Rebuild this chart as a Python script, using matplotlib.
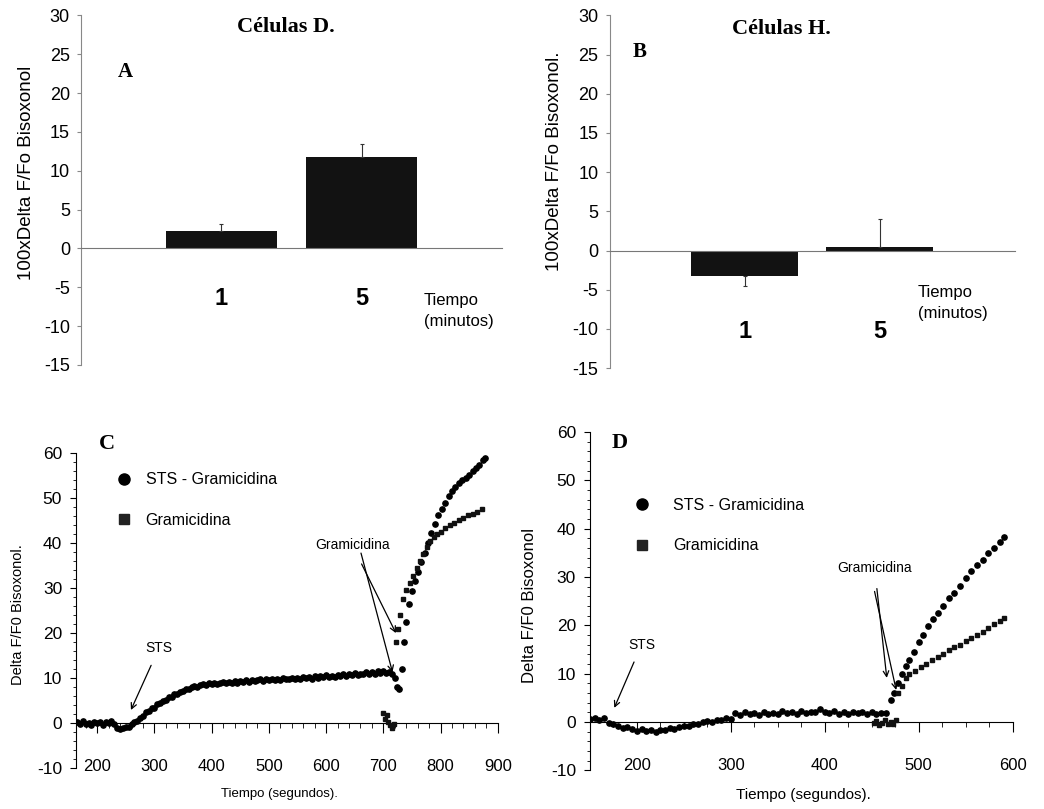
import numpy as np
import matplotlib
matplotlib.use("Agg")
from matplotlib import pyplot as plt
from matplotlib.lines import Line2D
from matplotlib.ticker import MultipleLocator

plt.rcParams["axes.unicode_minus"] = False

SANS = ["Liberation Sans", "DejaVu Sans"]
SERIF = ["Liberation Serif", "DejaVu Serif"]

# --- panel A / B: bars (100 x Delta F/Fo) ---
bar_labels = ["1", "5"]
a_values = [2.3, 11.8]
a_err_up = [0.9, 1.6]
b_values = [-3.2, 0.4]
b_err_down = [1.3, 0.0]
b_err_up = [0.0, 3.6]

# --- panel C: time courses (s, Delta F/F0) ---
c_sts_t = np.arange(165, 720, 5)
c_sts_v = [0.2, -0.3, 0.4, -0.2, 0.1, -0.5, 0.3, -0.1, 0.2, -0.4,
           0.3, 0.0, 0.5, -0.2, -1.0, -1.3, -1.1, -0.9, -0.8, -0.3,
           0.2, 0.5, 1.2, 1.5, 2.4, 2.6, 3.4, 3.3, 4.2, 4.5,
           5.0, 5.1, 5.8, 5.9, 6.5, 6.4, 7.0, 7.2, 7.6, 7.5,
           8.0, 8.3, 8.1, 8.5, 8.7, 8.4, 8.8, 8.6, 9.0, 8.7,
           8.9, 9.2, 8.8, 9.1, 9.0, 9.3, 8.9, 9.4, 9.2, 9.5,
           9.1, 9.6, 9.3, 9.5, 9.8, 9.4, 9.7, 9.5, 9.9, 9.6,
           9.8, 9.5, 10.0, 9.7, 9.9, 10.1, 9.8, 10.0, 9.7, 10.2,
           10.0, 10.3, 9.9, 10.4, 10.1, 10.5, 10.2, 10.6, 10.3, 10.5,
           10.2, 10.7, 10.4, 10.8, 10.5, 10.9, 10.6, 11.2, 10.7, 11.0,
           10.8, 11.3, 10.9, 11.4, 11.0, 11.5, 11.1, 11.6, 11.2, 11.4,
           11.0]
c_sts_post_t = [720, 724, 728, 732, 736, 740, 745, 750, 755, 760,
                766, 772, 778, 784, 790, 796, 802, 808, 814, 820,
                826, 832, 838, 844, 850, 856, 862, 868, 874, 878]
c_sts_post_v = [10.0, 8.0, 7.5, 12.0, 18.0, 22.5, 26.5, 29.3, 31.5, 33.5,
                35.8, 37.8, 40.0, 42.2, 44.3, 46.2, 47.6, 48.9, 50.4, 51.5,
                52.4, 53.3, 54.0, 54.6, 55.2, 56.0, 56.8, 57.4, 58.4, 59.0]
c_gram_t = [700, 703, 706, 709, 712, 715, 718,
            722, 726, 730, 735, 740, 746, 752, 758, 764, 770, 776, 782,
            788, 794, 800, 808, 816, 824, 832, 840, 848, 856, 864, 872]
c_gram_v = [2.3, 1.0, 1.8, 0.2, -0.5, -1.0, -0.2,
            18.0, 21.0, 24.0, 27.5, 29.5, 31.2, 32.8, 34.5, 36.0, 37.6, 39.2, 40.5,
            41.3, 42.0, 42.6, 43.4, 44.1, 44.6, 45.2, 45.7, 46.2, 46.6, 47.0, 47.5]

# --- panel D ---
d_sts_t = np.arange(150, 470, 5)
d_sts_v = [0.5, 0.8, 0.4, 0.9, -0.3, -0.5, -0.9, -1.2, -1.0, -1.5,
           -1.8, -1.5, -1.9, -1.6, -2.0, -1.7, -1.6, -1.3, -1.4, -1.0,
           -0.8, -0.9, -0.4, -0.5, -0.1, 0.2, 0.0, 0.4, 0.3, 0.8,
           0.5, 1.8, 1.4, 2.0, 1.6, 1.8, 1.5, 2.1, 1.7, 1.9,
           1.6, 2.2, 1.8, 2.0, 1.7, 2.3, 1.8, 2.1, 2.0, 2.6,
           2.1, 1.8, 2.2, 1.7, 2.0, 1.6, 2.1, 1.8, 2.0, 1.7,
           2.0, 1.6, 1.9, 1.8]
d_sts_post_t = [470, 474, 478, 482, 486, 490, 495, 500, 505, 510, 515, 520,
                526, 532, 538, 544, 550, 556, 562, 568, 574, 580, 586, 591]
d_sts_post_v = [4.5, 6.0, 8.0, 10.0, 11.5, 12.8, 14.5, 16.5, 18.0, 19.8, 21.2, 22.6,
                24.0, 25.7, 26.7, 28.2, 29.8, 31.3, 32.4, 33.5, 34.9, 36.0, 37.2, 38.3]
d_gram_t = [452, 455, 458, 461, 464, 467, 470, 473, 476,
            478, 482, 486, 490, 496, 502, 508, 514, 520, 526, 532,
            538, 544, 550, 556, 562, 568, 574, 580, 586, 591]
d_gram_v = [-0.3, 0.2, -0.6, -0.2, 0.3, -0.5, 0.0, -0.4, 0.3,
            6.0, 7.5, 9.0, 10.0, 10.6, 11.3, 12.0, 12.8, 13.4, 14.1, 14.8,
            15.4, 16.0, 16.7, 17.3, 18.0, 18.6, 19.5, 20.2, 20.9, 21.5]

legend_labels = ["STS - Gramicidina", "Gramicidina"]


def bar_panel(ax, values, err, title, letter, title_xy, letter_xy, tiempo_xy, xpad):
    ax.bar([1, 2], values, width=0.79, color="#121212", zorder=2,
           yerr=err, error_kw=dict(ecolor="#333333", elinewidth=0.8, capsize=1.5, capthick=0.8))
    ax.set_xlim(0, 3)
    ax.set_ylim(-15, 30)
    ax.set_yticks(range(-15, 31, 5))
    ax.set_xticks([1, 2], bar_labels)
    for s in ("top", "right"):
        ax.spines[s].set_visible(False)
    ax.spines["bottom"].set_position(("data", 0))
    ax.spines["bottom"].set_color("#777777")
    ax.spines["left"].set_color("#888888")
    ax.spines["left"].set_linewidth(0.8)
    ax.tick_params(axis="x", length=0, pad=xpad, labelsize=17)
    ax.tick_params(axis="y", length=3, pad=5, labelsize=13, color="#888888")
    for lbl in ax.get_xticklabels():
        lbl.set_fontweight("bold")
        lbl.set_family(SANS)
    for lbl in ax.get_yticklabels():
        lbl.set_family(SANS)
    ax.text(*title_xy, title, transform=ax.transAxes, ha="center", va="center",
            family=SERIF, weight="bold", size=16)
    ax.text(*letter_xy, letter, transform=ax.transAxes, ha="center", va="center",
            family=SERIF, weight="bold", size=15)
    ax.text(*tiempo_xy, "Tiempo\n(minutos)", transform=ax.transAxes, ha="left", va="center",
            family=SANS, size=12, linespacing=1.5)


def trace_panel(ax, xlim, xminor, legend_anchor, textpad):
    ax.set_xlim(*xlim)
    ax.set_ylim(-10, 60)
    ax.xaxis.set_minor_locator(MultipleLocator(xminor))
    ax.yaxis.set_major_locator(MultipleLocator(10))
    ax.yaxis.set_minor_locator(MultipleLocator(2))
    for s in ("top", "right"):
        ax.spines[s].set_visible(False)
    ax.spines["bottom"].set_position(("data", 0))
    ax.tick_params(axis="x", which="major", length=7, pad=19, labelsize=12)
    ax.tick_params(axis="x", which="minor", length=3.5)
    ax.tick_params(axis="y", which="major", length=4, pad=6, labelsize=12.5)
    ax.tick_params(axis="y", which="minor", length=2.5)
    for lbl in ax.get_xticklabels() + ax.get_yticklabels():
        lbl.set_family(SANS)
    handles = [Line2D([], [], marker="o", ls="none", color="black", ms=8),
               Line2D([], [], marker="s", ls="none", color="#222222", ms=7)]
    ax.legend(handles, legend_labels, loc="upper left", bbox_to_anchor=legend_anchor,
              frameon=False, borderpad=0, borderaxespad=0, handlelength=1.0,
              handletextpad=textpad, labelspacing=1.6,
              prop=dict(family=SANS, size=11.5))


fig = plt.figure(figsize=(10.44, 8.09), dpi=100)

axA = fig.add_axes([0.0776, 0.549, 0.403, 0.432])
bar_panel(axA, a_values, [[0, 0], a_err_up], "Células D.", "A",
          (0.487, 0.966), (0.105, 0.837), (0.815, 0.154), 28)
axA.set_ylabel("100xDelta F/Fo Bisoxonol", family=SANS, size=13.5)
axA.yaxis.set_label_coords(-0.109, 0.55)

axB = fig.add_axes([0.584, 0.545, 0.388, 0.436])
bar_panel(axB, b_values, [b_err_down, b_err_up], "Células H.", "B",
          (0.425, 0.96), (0.074, 0.895), (0.76, 0.184), 50)
axB.set_ylabel("100xDelta F/Fo Bisoxonol.", family=SANS, size=13.5)
axB.yaxis.set_label_coords(-0.116, 0.586)

arrow = dict(arrowstyle="->", lw=0.9, color="black", shrinkA=0, shrinkB=0)

# --- C ---
axC = fig.add_axes([0.0728, 0.0507, 0.404, 0.389])
axC.plot(c_sts_t, c_sts_v, "o", color="black", ms=3.8, zorder=3)
axC.plot(c_sts_post_t, c_sts_post_v, "o", color="black", ms=3.8, zorder=3)
axC.plot(c_gram_t, c_gram_v, "s", color="#111111", ms=3.3, zorder=3)
trace_panel(axC, (163, 900), 20, (0.095, 0.94), 0.85)
axC.set_xticks(range(200, 901, 100))
for lbl in axC.get_xticklabels():
    lbl.set_family(SANS)
axC.set_ylabel("Delta F/F0 Bisoxonol.", family=SANS, size=10.5)
axC.yaxis.set_label_coords(-0.121, 0.486)
axC.set_xlabel("Tiempo (segundos).", family=SANS, size=9.5)
axC.xaxis.set_label_coords(0.483, -0.063)
axC.text(0.073, 1.03, "C", transform=axC.transAxes, ha="center", va="center",
         family=SERIF, weight="bold", size=16)
axC.annotate("STS", xy=(259, 2.9), xytext=(308, 16.7), ha="center", va="center",
             family=SANS, size=10, arrowprops=dict(arrow, shrinkA=6))
axC.annotate("Gramicidina", xy=(722, 20), xytext=(646, 39.5), ha="center", va="center",
             family=SANS, size=10, arrowprops=dict(arrow, shrinkA=7))
axC.annotate("", xy=(716, 11.3), xytext=(661, 37.8), arrowprops=arrow)

# --- D ---
axD = fig.add_axes([0.565, 0.048, 0.405, 0.418])
axD.plot(d_sts_t, d_sts_v, "o", color="black", ms=3.8, zorder=3)
axD.plot(d_sts_post_t, d_sts_post_v, "o", color="black", ms=3.8, zorder=3)
axD.plot(d_gram_t, d_gram_v, "s", color="#111111", ms=3.3, zorder=3)
trace_panel(axD, (150, 600), 25, (0.105, 0.806), 1.45)
axD.set_xticks(range(200, 601, 100))
for lbl in axD.get_xticklabels():
    lbl.set_family(SANS)
axD.set_ylabel("Delta F/F0 Bisoxonol", family=SANS, size=12)
axD.yaxis.set_label_coords(-0.125, 0.488)
axD.set_xlabel("Tiempo (segundos).", family=SANS, size=11)
axD.xaxis.set_label_coords(0.504, -0.053)
axD.text(0.071, 0.967, "D", transform=axD.transAxes, ha="center", va="center",
         family=SERIF, weight="bold", size=16)
axD.annotate("STS", xy=(176, 2.9), xytext=(205, 16), ha="center", va="center",
             family=SANS, size=10, arrowprops=dict(arrow, shrinkA=6))
axD.annotate("Gramicidina", xy=(466, 9.1), xytext=(453, 31.9), ha="center", va="center",
             family=SANS, size=10, arrowprops=dict(arrow, shrinkA=8))
axD.annotate("", xy=(476, 6.6), xytext=(453, 27), arrowprops=arrow)

fig.savefig("out.png", dpi=100)
